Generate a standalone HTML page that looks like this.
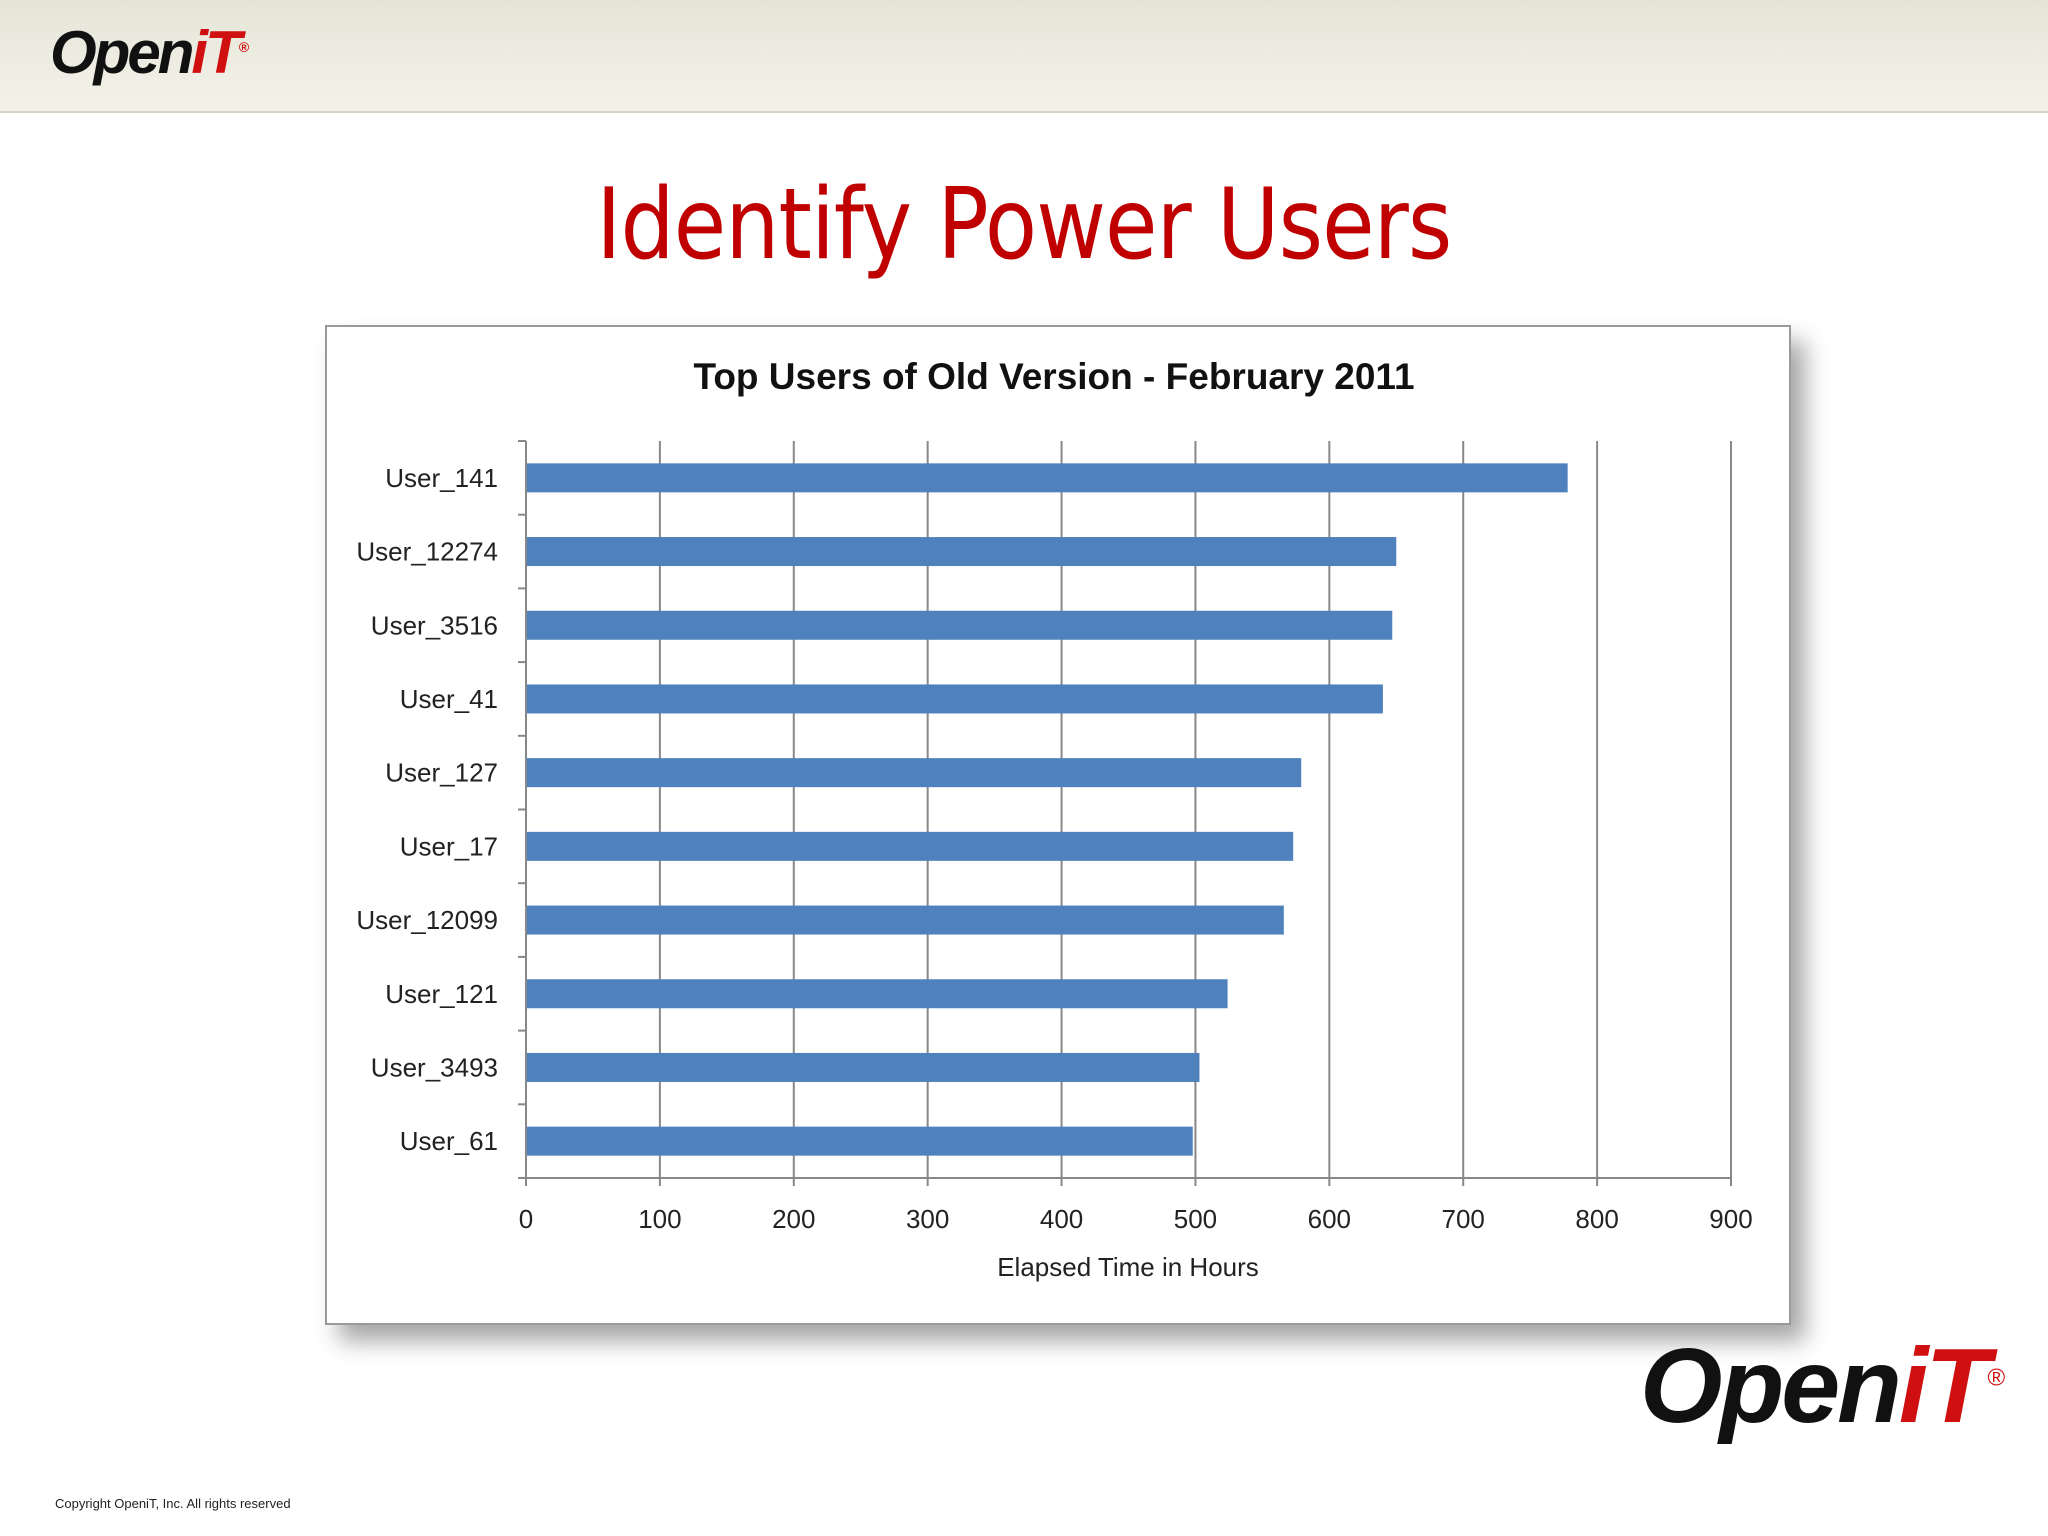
<!DOCTYPE html>
<html><head><meta charset="utf-8"><style>
body{margin:0;width:2048px;height:1536px;background:#fff;position:relative;overflow:hidden;font-family:"Liberation Sans",sans-serif}
#hdr{position:absolute;left:0;top:0;width:2048px;height:111px;background:linear-gradient(180deg,#e4e4d6 0%,#ecebe0 45%,#f3f2ea 100%);border-bottom:2px solid #d8d6c8}
.logo{position:absolute;font-family:"Liberation Sans",sans-serif;font-weight:bold;font-style:italic;letter-spacing:-3px}
#title{position:absolute;left:0;width:2048px;top:168px;text-align:center;color:#c00000;font-size:98px;font-family:"DejaVu Sans","Liberation Sans",sans-serif;letter-spacing:-1px;transform:scaleX(0.87);transform-origin:1023px 0}
#box{position:absolute;left:325px;top:325px;width:1462px;height:996px;border:2px solid #9a9a9a;background:#fff;box-shadow:14px 16px 22px rgba(0,0,0,.35)}
#copy{position:absolute;left:55px;top:1496px;font-size:13px;color:#222}
</style></head><body>
<div id="hdr"></div>
<div class="logo" style="left:50px;top:18px;font-size:60px;color:#111">Open<span style="color:#d01010">iT</span><sup style="font-size:14px;color:#d01010">®</sup></div>
<div id="title">Identify Power Users</div>
<div id="box"></div>
<svg id="chart" width="2048" height="1536" style="position:absolute;left:0;top:0"></svg>
<div class="logo" style="left:1640px;top:1326px;font-size:106px;color:#111">Open<span style="color:#d01010">iT</span><sup style="font-size:24px;color:#d01010;font-weight:normal">®</sup></div>
<div id="copy">Copyright OpeniT, Inc. All rights reserved</div>
<script>
const categories=["User_141","User_12274","User_3516","User_41","User_127","User_17","User_12099","User_121","User_3493","User_61"];
const values=[778,650,647,640,579,573,566,524,503,498];
const ticks=[0,100,200,300,400,500,600,700,800,900];
const svg=document.getElementById('chart');const NS='http://www.w3.org/2000/svg';
const X0=526,X1=1731,Y0=441,Y1=1178;
const x=v=>X0+(v-ticks[0])/(ticks[ticks.length-1]-ticks[0])*(X1-X0);
const band=(Y1-Y0)/categories.length;
function mk(t,a){const e=document.createElementNS(NS,t);for(const k in a)e.setAttribute(k,a[k]);svg.appendChild(e);return e;}
let t=mk('text',{x:1054,y:389,'text-anchor':'middle','font-size':37,'font-weight':'bold','font-family':'Liberation Sans,sans-serif',fill:'#111'});t.textContent='Top Users of Old Version - February 2011';

ticks.forEach(v=>{if(v>0){const g=mk('line',{x1:x(v),x2:x(v),y1:Y0,y2:Y1,stroke:'#888','stroke-width':2});}
mk('line',{x1:x(v),x2:x(v),y1:Y1,y2:Y1+8,stroke:'#888','stroke-width':2});
const l=mk('text',{x:x(v),y:1228,'text-anchor':'middle','font-size':26,fill:'#222'});l.textContent=v;
});
const ax=mk('line',{x1:X0,x2:X0,y1:Y0,y2:Y1,stroke:'#888','stroke-width':2});
const bx=mk('line',{x1:X0,x2:X1,y1:Y1,y2:Y1,stroke:'#888','stroke-width':2});
for(let i=0;i<=categories.length;i++)mk('line',{x1:X0-8,x2:X0,y1:Y0+i*band,y2:Y0+i*band,stroke:'#888','stroke-width':2});
categories.forEach((c,i)=>{const cy=Y0+band*(i+0.5);
const r=mk('rect',{x:X0+1,y:cy-14.5,width:x(values[i])-X0-1,height:29,fill:'#4f81bd'});

const l=mk('text',{x:498,y:cy+9,'text-anchor':'end','font-size':26,fill:'#222'});l.textContent=c;
});
t=mk('text',{x:1128,y:1276,'text-anchor':'middle','font-size':26,fill:'#222'});t.textContent='Elapsed Time in Hours';

</script>
</body></html>
